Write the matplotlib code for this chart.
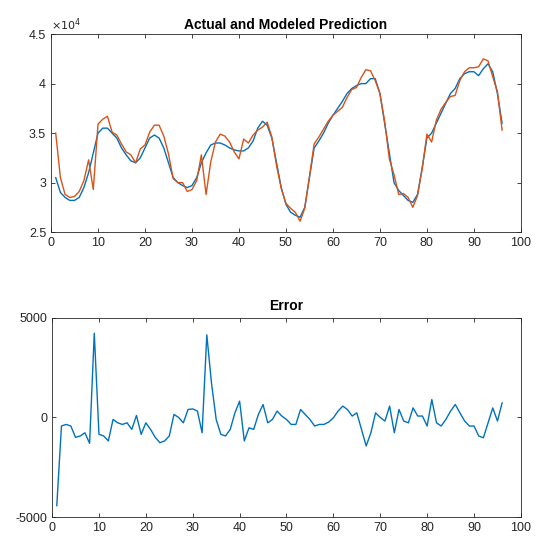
# Actual vs modeled prediction and its error (MATLAB-like look)

import matplotlib.pyplot as plt
import numpy as np
from matplotlib.ticker import FuncFormatter

plt.rcParams['font.family'] = ['Liberation Sans', 'DejaVu Sans']

# Data
steps = np.arange(1, 97)
actual = [30500, 29000, 28500, 28200, 28200, 28500, 29500, 31000, 33000, 35000,
          35500, 35500, 35000, 34500, 33500, 32800, 32200, 32000, 32500, 33500,
          34500, 34800, 34500, 33500, 32000, 30500, 30000, 29700, 29500, 29700,
          30500, 32000, 33000, 33800, 34000, 34000, 33800, 33500, 33300, 33200,
          33200, 33500, 34200, 35500, 36200, 35800, 34500, 32000, 29500, 27800,
          27000, 26700, 26500, 27500, 30500, 33500, 34200, 35000, 36000, 36800,
          37500, 38200, 39000, 39500, 39800, 40000, 40000, 40500, 40500, 39000,
          36000, 33000, 30000, 29200, 28700, 28200, 28000, 28800, 31500, 34500,
          35000, 36000, 37000, 38000, 39000, 39500, 40500, 41000, 41200, 41200,
          40800, 41500, 42000, 41200, 39000, 36000]
predicted = [35000, 30500, 28800, 28500, 28600, 29100, 30200, 32300, 29300, 35900,
             36400, 36700, 35100, 34800, 33900, 33100, 32800, 32000, 33400, 33800,
             35100, 35800, 35800, 34700, 32900, 30400, 30000, 30000, 29100, 29300,
             30200, 32800, 28800, 32100, 34100, 34900, 34700, 34100, 33100, 32400,
             34400, 34000, 34800, 35300, 35600, 36100, 34600, 31700, 29400, 27900,
             27400, 27000, 26100, 27400, 30600, 33900, 34600, 35400, 36200, 36800,
             37200, 37600, 38600, 39400, 39600, 40600, 41400, 41300, 40300, 39000,
             36200, 32400, 30800, 28800, 28900, 28500, 27500, 28700, 31400, 34900,
             34100, 36300, 37400, 38100, 38700, 38800, 40300, 41200, 41600, 41600,
             41700, 42500, 42300, 40700, 39200, 35300]
error = [-4430, -430, -350, -430, -1000, -930, -770, -1300, 4230, -850,
         -930, -1180, -100, -270, -350, -270, -600, 100, -850, -270,
         -600, -1000, -1270, -1180, -930, 150, 0, -270, 400, 430,
         320, -770, 4150, 1730, -100, -850, -930, -600, 230, 820,
         -1180, -520, -600, 150, 650, -270, -100, 320, 70, -100,
         -350, -350, 400, 150, -100, -430, -350, -350, -230, -20,
         320, 570, 400, 70, 230, -600, -1430, -770, 230, 0,
         -180, 570, -770, 400, -180, -270, 480, 70, 70, -430,
         900, -270, -430, -100, 320, 650, 230, -180, -430, -430,
         -930, -1020, -270, 480, -180, 730]

blue = (0.0, 0.447, 0.741)
orange = (0.85, 0.325, 0.098)
edge = '#262626'

fig = plt.figure(figsize=(5.37, 5.5), dpi=100)
ax1 = fig.add_axes([0.095, 0.578, 0.875, 0.360])
ax2 = fig.add_axes([0.097, 0.060, 0.873, 0.362])

ax1.plot(steps, actual, color=blue, lw=1.0)
ax1.plot(steps, predicted, color=orange, lw=1.0)
ax1.set_xlim(0, 100)
ax1.set_ylim(25000, 45000)
ax1.set_yticks([25000, 30000, 35000, 40000, 45000])
ax1.yaxis.set_major_formatter(FuncFormatter(lambda v, p: f'{v/1e4:g}'))
ax1.text(0.0, 1.005, r'$\times 10^4$', transform=ax1.transAxes, fontsize=8,
         ha='left', va='bottom', color=edge)
ax1.set_title('Actual and Modeled Prediction', fontsize=10, fontweight='bold', pad=4)

ax2.plot(steps, error, color=blue, lw=1.0)
ax2.set_xlim(0, 100)
ax2.set_ylim(-5000, 5000)
ax2.set_yticks([-5000, 0, 5000])
ax2.yaxis.set_major_formatter(FuncFormatter(lambda v, p: f'{v:g}'))
ax2.set_title('Error', fontsize=10, fontweight='bold', pad=6)

for ax in (ax1, ax2):
    ax.set_xticks(np.arange(0, 101, 10))
    ax.tick_params(direction='in', top=True, right=True, labelsize=9,
                   length=3, width=0.6, colors=edge)
    for s in ax.spines.values():
        s.set_linewidth(0.6)
        s.set_color(edge)

plt.savefig('out.png', dpi=100)
plt.close()
